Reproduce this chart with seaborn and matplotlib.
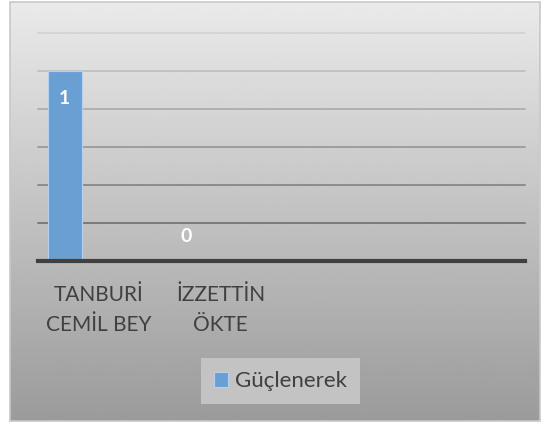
import numpy as np
import pandas as pd
import matplotlib
matplotlib.use("Agg")
import matplotlib.pyplot as plt
from matplotlib.patches import Patch, Rectangle
import seaborn as sns

# ---- data ----
categories = ["TANBURİ\nCEMİL BEY", "İZZETTİN\nÖKTE"]
values = [1, 0]
series_name = "Güçlenerek"
y_ticks = [0, 0.2, 0.4, 0.6, 0.8, 1.0, 1.2]

# ---- style ----
sns.set_theme(style="white")
plt.rcParams["font.family"] = ["Lato", "DejaVu Sans"]
BAR_COLOR = "#6a9fd4"
TEXT_COLOR = "#404040"
N_SLOTS = 4          # category slots along the axis
BAR_W = 0.28
BAR_SHIFT = -0.28    # first bar of each cluster

W, H = 541, 423
fig = plt.figure(figsize=(W / 100, H / 100), dpi=100)
fig.patch.set_facecolor("white")

# chart panel with a vertical grey gradient
bg = fig.add_axes([0, 0, 1, 1], zorder=0)
bg.set_xlim(0, W)
bg.set_ylim(H, 0)
bg.axis("off")
grad = np.linspace(234, 155, 256)[:, None].repeat(2, axis=1)
bg.imshow(grad, cmap="gray", vmin=0, vmax=255, extent=[10, 540, 421, 2],
          aspect="auto", interpolation="bilinear")
bg.add_patch(Rectangle((10, 2), 530, 419, fill=False, edgecolor="#c8c8c8", lw=1.2))

# plot area
ax = fig.add_axes([38 / W, 1 - 261 / H, 487 / W, 228 / H], zorder=1)
ax.patch.set_alpha(0)

df = pd.DataFrame({"pos": np.arange(len(categories)) + BAR_SHIFT, "value": values})
sns.barplot(data=df, x="pos", y="value", native_scale=True, width=BAR_W,
            color=BAR_COLOR, saturation=1, edgecolor="#b8d0ea", linewidth=0.8,
            ax=ax, zorder=3)

ax.set_xlim(-0.5, N_SLOTS - 0.5)
ax.set_ylim(0, max(y_ticks))

# horizontal gridlines, darker toward the bottom
grid_greys = [212, 194, 176, 158, 140, 122]
for yv, g in zip(y_ticks[::-1][:-1], grid_greys):
    c = (g / 255,) * 3
    ax.axhline(yv, color=c, lw=1.4, clip_on=False, zorder=1)

ax.set_yticks([])
ax.set_ylabel("")
ax.set_xlabel("")
ax.set_xticks(range(len(categories)))
ax.set_xticklabels(categories, fontsize=15, color=TEXT_COLOR, linespacing=1.62)
ax.tick_params(axis="x", length=0, pad=17)
for s in ["top", "left", "right"]:
    ax.spines[s].set_visible(False)
ax.spines["bottom"].set_color("#404040")
ax.spines["bottom"].set_linewidth(3)
ax.spines["bottom"].set_zorder(4)

# value labels
for x, v in zip(df["pos"], values):
    off = -20 if v > 0 else 18
    ax.annotate(str(v), xy=(x, v), xytext=(0, off), textcoords="offset points",
                ha="center", va="center", color="white", fontweight="bold",
                fontsize=14, zorder=5)

# legend
handle = Patch(facecolor=BAR_COLOR, edgecolor="#b8d0ea", linewidth=0.8)
leg = ax.legend([handle], [series_name], loc="center",
                bbox_to_anchor=(280.5 / W, 1 - 381 / H), bbox_transform=fig.transFigure,
                frameon=True, fancybox=False, facecolor="#c3c3c3", edgecolor="none",
                framealpha=1, fontsize=16, handlelength=0.65, handleheight=0.65,
                handletextpad=0.3, borderpad=0.6, borderaxespad=0)
for t in leg.get_texts():
    t.set_color(TEXT_COLOR)

fig.savefig("out.png", dpi=100)
